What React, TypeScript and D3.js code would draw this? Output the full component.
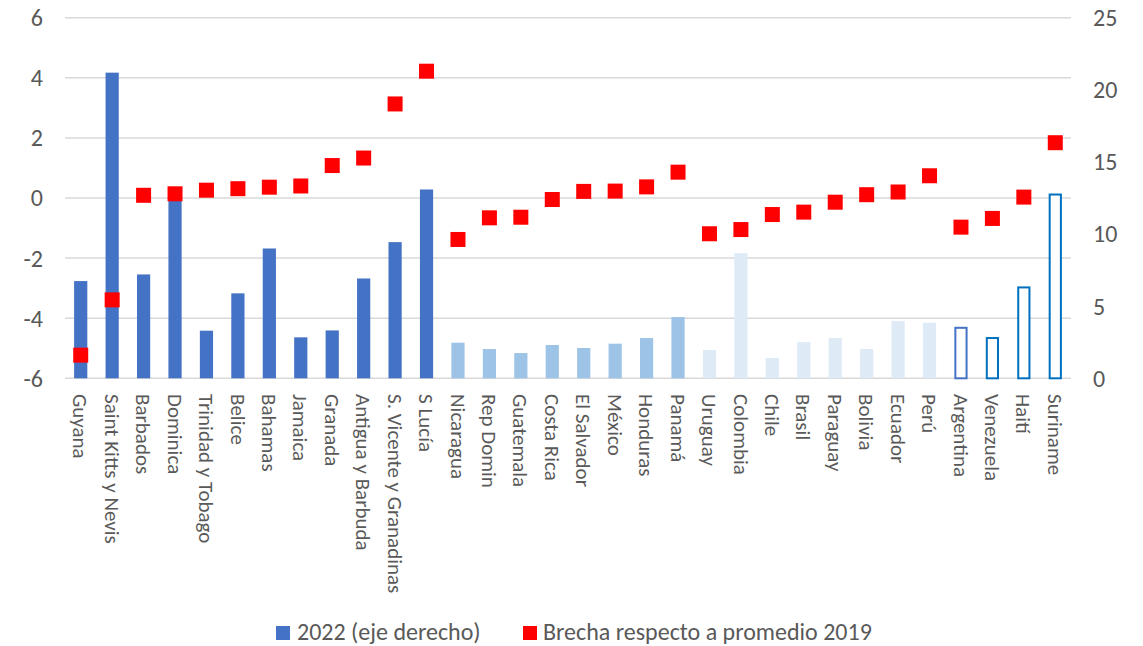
import * as d3 from 'd3';

const countries = [
  'Guyana', 'Saint Kitts y Nevis', 'Barbados', 'Dominica', 'Trinidad y Tobago', 'Belice',
  'Bahamas', 'Jamaica', 'Granada', 'Antigua y Barbuda', 'S. Vicente y Granadinas', 'S Lucía',
  'Nicaragua', 'Rep Domin', 'Guatemala', 'Costa Rica', 'El Salvador', 'México', 'Honduras',
  'Panamá', 'Uruguay', 'Colombia', 'Chile', 'Brasil', 'Paraguay', 'Bolivia', 'Ecuador', 'Perú',
  'Argentina', 'Venezuela', 'Haití', 'Suriname',
];

// 2022 (right axis)
const values2022 = [
  6.74, 21.19, 7.2, 12.5, 3.3, 5.89, 9.0, 2.84, 3.32, 6.92, 9.44, 13.09,
  2.47, 2.03, 1.75, 2.31, 2.1, 2.4, 2.79, 4.25,
  1.96, 8.68, 1.41, 2.51, 2.79, 2.03, 3.97, 3.85,
  3.57, 2.86, 6.37, 12.81,
];

// Brecha respecto a promedio 2019 (left axis)
const brecha = [
  -5.23, -3.39, 0.09, 0.14, 0.26, 0.31, 0.36, 0.4, 1.08, 1.33, 3.13, 4.22,
  -1.38, -0.66, -0.64, -0.05, 0.22, 0.23, 0.37, 0.86,
  -1.19, -1.05, -0.55, -0.47, -0.14, 0.11, 0.2, 0.74,
  -0.97, -0.68, 0.03, 1.84,
];

// bar style per country: 0 caribe, 1 centro, 2 sur, 3-4 outlined
const groups = [
  0, 0, 0, 0, 0, 0, 0, 0, 0, 0, 0, 0,
  1, 1, 1, 1, 1, 1, 1, 1,
  2, 2, 2, 2, 2, 2, 2, 2,
  3, 4, 4, 4,
];

const leftTicks = [-6, -4, -2, 0, 2, 4, 6];
const rightTicks = [0, 5, 10, 15, 20, 25];

const W = 1143;
const H = 646;
const font = 'Carlito, Calibri, "Liberation Sans", Arial, sans-serif';
const textColor = '#595959';

const App = () => {
  const x = d3.scaleBand<string>().domain(countries).range([65, 1071]).paddingInner(0.58).paddingOuter(0.29);
  const yL = d3.scaleLinear().domain([-6, 6]).range([378.3, 17.7]);
  const yR = d3.scaleLinear().domain([0, 25]).range([378.3, 17.7]);
  const bw = x.bandwidth();

  const fillFor = (g: number) => ['#4472C4', '#9DC3E6', '#DEEBF7', '#ffffff', '#ffffff'][g];
  const strokeFor = (g: number) => (g === 3 ? '#4472C4' : g === 4 ? '#0070C0' : 'none');

  return (
    <svg width={W} height={H} style={{ position: 'absolute', left: 0, top: 0, background: '#fff' }} fontFamily={font}>
      {leftTicks.map((t) => (
        <line key={'g' + t} x1={65} x2={1071} y1={yL(t)} y2={yL(t)} stroke="#D9D9D9" strokeWidth={1.5} />
      ))}
      {countries.map((c, i) => {
        const g = groups[i];
        const outlined = g >= 3;
        const y0 = yR(0);
        const y1 = yR(values2022[i]);
        return (
          <rect
            key={'b' + c}
            x={x(c)! + (outlined ? 1 : 0)}
            y={y1 + (outlined ? 1 : 0)}
            width={bw - (outlined ? 2 : 0)}
            height={y0 - y1 - (outlined ? 1 : 0)}
            fill={fillFor(g)}
            stroke={strokeFor(g)}
            strokeWidth={outlined ? 2 : 0}
          />
        );
      })}
      {countries.map((c, i) => (
        <rect
          key={'m' + c}
          x={x(c)! + bw / 2 - 7.5}
          y={yL(brecha[i]) - 7.5}
          width={15}
          height={15}
          fill="#FF0000"
        />
      ))}
      {leftTicks.map((t) => (
        <text key={'l' + t} x={43} y={yL(t)} dy="0.35em" textAnchor="end" fontSize={24} fill={textColor}>
          {t}
        </text>
      ))}
      {rightTicks.map((t) => (
        <text key={'r' + t} x={1093} y={yR(t)} dy="0.35em" textAnchor="start" fontSize={24} fill={textColor}>
          {t}
        </text>
      ))}
      {countries.map((c) => {
        const cx = x(c)! + bw / 2;
        return (
          <text
            key={'t' + c}
            transform={`translate(${cx},394) rotate(90)`}
            dy="0.35em"
            textAnchor="start"
            fontSize={21}
            fill={textColor}
          >
            {c}
          </text>
        );
      })}
      <g transform="translate(0,632)">
        <rect x={276} y={-6} width={14} height={14} fill="#4472C4" />
        <text x={297} y={0} dy="0.35em" fontSize={24} fill={textColor}>2022 (eje derecho)</text>
        <rect x={523} y={-6} width={14} height={14} fill="#FF0000" />
        <text x={543} y={0} dy="0.35em" fontSize={24} fill={textColor}>Brecha respecto a promedio 2019</text>
      </g>
    </svg>
  );
};

export default App;
